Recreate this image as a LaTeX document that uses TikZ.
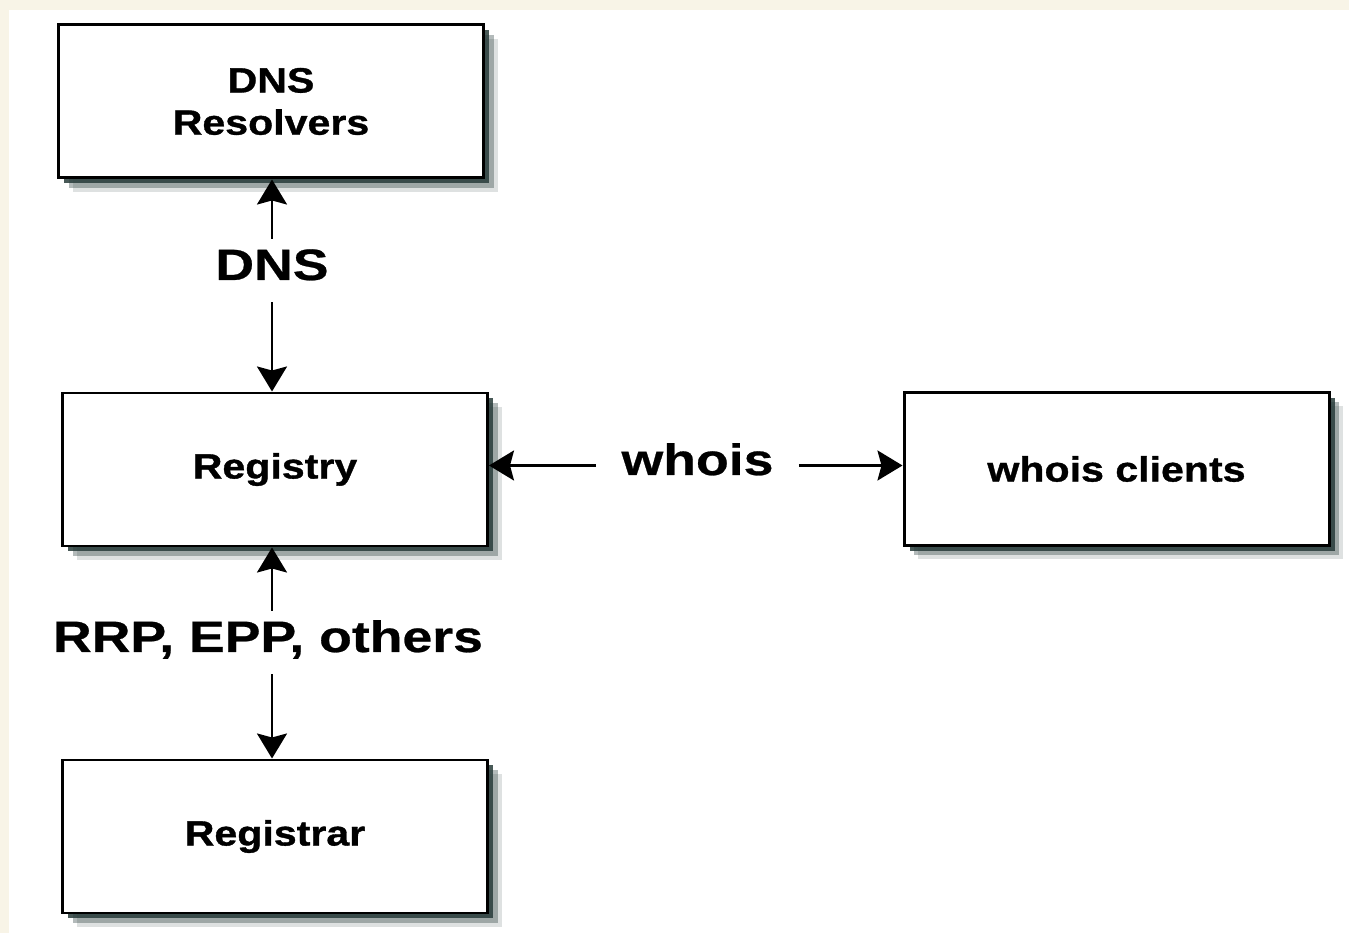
\documentclass[tikz,border=0pt]{standalone}
\usepackage{fontspec}
\setmainfont{Liberation Sans}
\newfontfamily\boxfont[FakeStretch=1.17,FakeBold=1]{Liberation Sans}
\newfontfamily\lblfont[FakeStretch=1.22,FakeBold=0.6]{Liberation Sans}
\usetikzlibrary{arrows.meta,shadows}
\definecolor{cream}{RGB}{248,244,231}
\definecolor{shadowgray}{RGB}{40,60,58}
\begin{document}
\begin{tikzpicture}[
            block/.style = {draw, fill=white,
                line width=1.7pt,
                minimum width=8.5cm,
                minimum height=3.06cm,
                align=center,
                font=\boxfont\bfseries\fontsize{20}{24}\selectfont,
                drop shadow={shadow xshift=0.28cm, shadow yshift=-0.28cm,
                    fill=shadowgray, opacity=0.15},
                drop shadow={shadow xshift=0.2cm, shadow yshift=-0.2cm,
                    fill=shadowgray, opacity=0.35},
                drop shadow={shadow xshift=0.11cm, shadow yshift=-0.11cm,
                    fill=shadowgray, opacity=0.85},
                },
            proto/.style = {anchor=base,
                inner xsep=0.5cm, inner ysep=0.2cm,
                text height=0.62cm, text depth=0.24cm,
                font=\lblfont\bfseries\fontsize{25}{30}\selectfont,
                },
            link/.style = {line width=1.4pt,
                -{Stealth[length=0.5cm, width=0.6cm, inset=0.08cm]},
                }]

        % Page
        \useasboundingbox (0,0) rectangle (26.98,-18.66);
        \fill[cream] (0,0) rectangle (26.98,-18.66);
        \fill[white] (0.18,-0.2) rectangle (26.98,-18.66);

        % Boxes
        \node[block] (res) at (5.42,-2.03) {DNS\\Resolvers};
        \node[block] (reg) at (5.5,-9.39) {Registry};
        \node[block] (cli) at (22.33,-9.38) {whois clients};
        \node[block] (rar) at (5.5,-16.73) {Registrar};

        % Protocols
        \node[proto] (dns) at (5.44,-5.6) {DNS};
        \node[proto] (whois) at (13.95,-9.5) {whois};
        \node[proto] (rrp) at (5.36,-13.04) {RRP, EPP, others};

        % Arrows
        \draw[link] (dns.north) -- (dns.north |- res.south);
        \draw[link] (dns.south) -- (dns.south |- reg.north);
        \draw[link] (whois.west) -- (whois.west -| reg.east);
        \draw[link] (whois.east) -- (whois.east -| cli.west);
        \draw[link] ([xshift=0.08cm]rrp.north) -- ([xshift=0.08cm]rrp.north |- reg.south);
        \draw[link] ([xshift=0.08cm]rrp.south) -- ([xshift=0.08cm]rrp.south |- rar.north);

        \end{tikzpicture}
\end{document}
